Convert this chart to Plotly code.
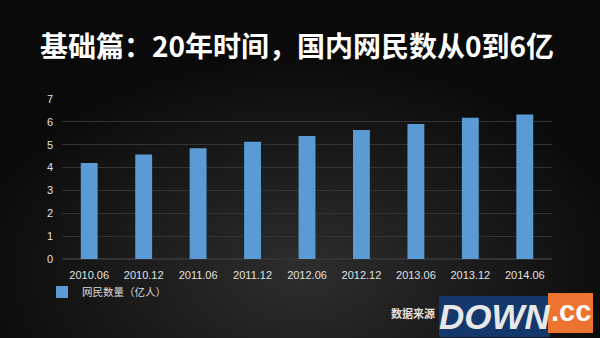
import base64, struct, zlib
import numpy as np
import plotly.graph_objects as go

categories = ["2010.06", "2010.12", "2011.06", "2011.12", "2012.06",
              "2012.12", "2013.06", "2013.12", "2014.06"]
netizens = [4.20, 4.57, 4.85, 5.13, 5.38, 5.64, 5.91, 6.18, 6.32]
series_name = "网民数量（亿人）"
title_text = "基础篇：20年时间，国内网民数从0到6亿"
source_text = "数据来源"
y_ticks = [0, 1, 2, 3, 4, 5, 6, 7]


def png_data_uri(arr):
    h, w, _ = arr.shape
    raw = b"".join(b"\x00" + arr[r].tobytes() for r in range(h))

    def chunk(tag, data):
        c = struct.pack(">I", len(data)) + tag + data
        return c + struct.pack(">I", zlib.crc32(tag + data) & 0xffffffff)

    png = b"\x89PNG\r\n\x1a\n" + chunk(b"IHDR", struct.pack(">IIBBBBB", w, h, 8, 2, 0, 0, 0))
    png += chunk(b"IDAT", zlib.compress(raw, 9)) + chunk(b"IEND", b"")
    return "data:image/png;base64," + base64.b64encode(png).decode()


# dark radial background, lighter in the lower middle
W, H = 300, 169
yy, xx = np.mgrid[0:H, 0:W]
d = np.sqrt(((xx - 150) / 170.0) ** 2 + ((yy - 135) / 110.0) ** 2)
v = 46 - 36 * np.clip(d, 0, 1)
v = np.clip(v, 8, 60).astype(np.uint8)
bg = np.stack([v, v, v], axis=-1)
bg_uri = png_data_uri(bg)

PL, PR, PT, PB = 62, 552, 99, 259
PW, PH = PR - PL, PB - PT


def px(x):
    return (x - PL) / PW


def py(y):
    return (PB - y) / PH


fig = go.Figure()
fig.add_trace(go.Bar(
    x=categories, y=netizens, name=series_name,
    marker=dict(color="#5b9bd5", line=dict(width=0)),
    showlegend=True,
))

fig.update_layout(
    width=600, height=338,
    margin=dict(l=PL, r=600 - PR, t=PT, b=338 - PB),
    paper_bgcolor="#111111",
    plot_bgcolor="rgba(0,0,0,0)",
    bargap=0.69,
    font=dict(family="Noto Sans CJK SC, Liberation Sans, sans-serif", color="#d9d9d9"),
    title=dict(
        text=title_text, x=297 / 600, xanchor="center", xref="container",
        y=1 - 47 / 338, yanchor="middle", yref="container",
        font=dict(size=28, color="#ffffff", family="Noto Sans CJK SC", weight=700),
    ),
    xaxis=dict(
        type="category", showgrid=False, zeroline=False, showline=False,
        ticks="", tickfont=dict(size=11, color="#e0e0e0", family="Liberation Sans, Arial"),
        ticklabelstandoff=8,
    ),
    yaxis=dict(
        range=[0, 7], tickvals=y_ticks, showgrid=True, gridcolor="#333333", gridwidth=1,
        zeroline=True, zerolinecolor="#333333", showline=False, ticks="",
        tickfont=dict(size=11, color="#e0e0e0", family="Liberation Sans, Arial"),
        ticklabelstandoff=8,
    ),
    legend=dict(
        orientation="h", x=px(42), xanchor="left", y=py(292), yanchor="middle",
        font=dict(size=10.5, color="#d9d9d9"), itemwidth=30,
        bgcolor="rgba(0,0,0,0)",
    ),
    images=[dict(
        source=bg_uri, xref="paper", yref="paper", x=px(0), y=py(0),
        sizex=600 / PW, sizey=338 / PH, xanchor="left", yanchor="top",
        sizing="stretch", layer="below",
    )],
)

# source label and logo-like mark
fig.add_annotation(
    text=source_text, xref="paper", yref="paper", xanchor="right", yanchor="middle",
    x=px(437), y=py(313), showarrow=False,
    font=dict(size=11, color="#e0e0e0", family="Noto Sans CJK SC", weight=700),
)
fig.add_shape(type="rect", xref="paper", yref="paper",
              x0=px(439), x1=px(550), y0=py(337), y1=py(296),
              fillcolor="#14386b", line=dict(width=0))
fig.add_shape(type="rect", xref="paper", yref="paper",
              x0=px(548), x1=px(593), y0=py(333), y1=py(293),
              fillcolor="#ec7330", line=dict(width=0))
fig.add_annotation(
    text="<i><b>DOWN</b></i>", xref="paper", yref="paper", xanchor="center", yanchor="middle",
    x=px(495), y=py(316), showarrow=False,
    font=dict(size=35, color="#e8e8e8", family="Liberation Sans Narrow, Liberation Sans"),
)
fig.add_annotation(
    text="<b>.cc</b>", xref="paper", yref="paper", xanchor="center", yanchor="middle",
    x=px(571), y=py(311), showarrow=False,
    font=dict(size=29, color="#ffffff", family="Liberation Sans Narrow, Liberation Sans"),
)

fig.write_html("out.html")
